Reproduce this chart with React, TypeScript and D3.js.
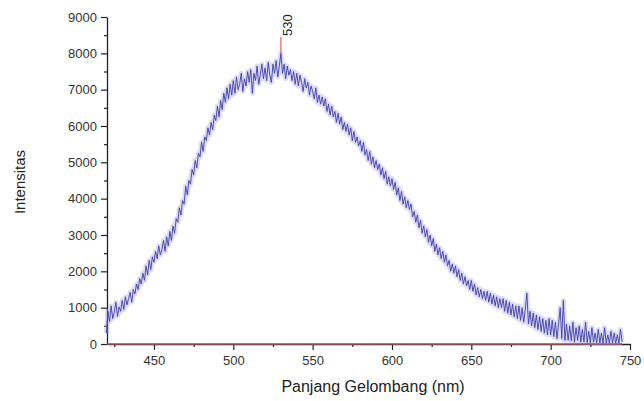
import * as d3 from "d3";
import { useEffect, useRef } from "react";

// spectrum, 1 nm step starting at 420 nm
const startNm = 420;
const intensity = [
  300, 900, 620, 1050, 700, 880, 1150, 760, 1020, 900,
  1200, 950, 1300, 1080, 1250, 1420, 1150, 1500, 1380, 1650,
  1500, 1800, 1650, 1950, 1750, 2150, 1900, 2300, 2050, 2400,
  2250, 2550, 2350, 2700, 2450, 2600, 2850, 2550, 2950, 2700,
  3100, 2850, 3250, 3050, 3450, 3350, 3750, 3550, 3950, 3850,
  4350, 4100, 4500, 4400, 4800, 4650, 5050, 4850, 5250, 5150,
  5550, 5300, 5700, 5600, 5950, 5750, 6100, 5900, 6300, 6150,
  6550, 6250, 6700, 6450, 6900, 6650, 7050, 6750, 7150, 6850,
  7250, 6900, 7350, 7000, 7150, 7450, 6950, 7300, 7100, 7500,
  7200, 7550, 6900, 7450, 7250, 7650, 7150, 7400, 7700, 7300,
  7600, 7250, 7750, 7400, 7200, 7700, 7450, 7800, 7350, 7650,
  8000, 7450, 7700, 7300, 7650, 7400, 7550, 7250, 7500, 7150,
  7450, 7100, 7400, 7200, 6950, 7300, 7050, 7200, 6850, 7100,
  6950, 6750, 7050, 6650, 6850, 6600, 6800, 6550, 6750, 6400,
  6600, 6300, 6550, 6250, 6400, 6100, 6350, 6050, 6250, 5900,
  6100, 5850, 6050, 5750, 5950, 5600, 5850, 5550, 5700, 5450,
  5600, 5300, 5550, 5200, 5350, 5050, 5300, 4950, 5150, 4850,
  5050, 4800, 4950, 4650, 4850, 4550, 4750, 4400, 4600, 4350,
  4550, 4250, 4450, 4100, 4300, 3950, 4200, 3850, 4050, 3750,
  3950, 3700, 3850, 3500, 3650, 3350, 3550, 3200, 3400, 3050,
  3250, 2950, 3150, 2800, 3000, 2700, 2900, 2550, 2750, 2450,
  2650, 2350, 2550, 2250, 2450, 2150, 2300, 2000, 2200, 1950,
  2150, 1850, 2050, 1750, 1950, 1650, 1850, 1600, 1750, 1500,
  1750, 1450, 1650, 1350, 1550, 1300, 1500, 1250, 1450, 1200,
  1450, 1150, 1400, 1100, 1350, 1050, 1300, 1000, 1250, 1000,
  1250, 900, 1200, 850, 1150, 800, 1100, 750, 1050, 700,
  1050, 650, 1000, 600, 950, 1400, 550, 900, 500, 850,
  450, 800, 400, 750, 350, 700, 300, 650, 250, 700,
  250, 650, 200, 600, 150, 550, 1000, 150, 1200, 100,
  550, 100, 500, 80, 600, 50, 450, 100, 500, 50,
  400, 50, 600, 40, 350, 30, 450, 50, 300, 30,
  400, 30, 300, 20, 450, 30, 250, 20, 350, 30,
  300, 20, 250, 30, 400, 60,
];
const wavelengths = intensity.map((_, i) => startNm + i);

const yTicks = [0, 1000, 2000, 3000, 4000, 5000, 6000, 7000, 8000, 9000];
const xTicks = [450, 500, 550, 600, 650, 700, 750];
const peakNm = 530;
const peakLabel = "530";

export default function App() {
  const ref = useRef<SVGSVGElement>(null);

  const width = 644;
  const height = 401;
  const marginLeft = 107;
  const marginTop = 17;
  const plotRight = 630;
  const plotBottom = 344;

  useEffect(() => {
    const svg = d3.select(ref.current);
    svg.selectAll("*").remove();

    const x = d3.scaleLinear().domain([420.4, 750]).range([marginLeft, plotRight]);
    const y = d3.scaleLinear().domain([0, 9000]).range([plotBottom, marginTop]);

    const font = "'Liberation Sans', Arial, sans-serif";

    // minor ticks
    svg
      .append("g")
      .attr("transform", `translate(${marginLeft},0)`)
      .call(d3.axisLeft(y).tickValues(d3.range(500, 9000, 1000)).tickSize(3).tickFormat(() => ""))
      .call((g) => g.select(".domain").remove());
    svg
      .append("g")
      .attr("transform", `translate(0,${plotBottom})`)
      .call(d3.axisBottom(x).tickValues(d3.range(425, 750, 50)).tickSize(3).tickFormat(() => ""))
      .call((g) => g.select(".domain").remove());

    // major axes
    const yAxis = svg
      .append("g")
      .attr("transform", `translate(${marginLeft},0)`)
      .call(d3.axisLeft(y).tickValues(yTicks).tickSize(6).tickSizeOuter(0).tickPadding(4).tickFormat(d3.format("d")));
    yAxis.selectAll("text").attr("fill", "#333").style("font-size", "13px").style("font-family", font);

    const xAxis = svg
      .append("g")
      .attr("transform", `translate(0,${plotBottom})`)
      .call(d3.axisBottom(x).tickValues(xTicks).tickSize(6).tickSizeOuter(0).tickPadding(6).tickFormat(d3.format("d")));
    xAxis.selectAll("text").attr("fill", "#333").style("font-size", "13px").style("font-family", font);

    svg.selectAll(".domain").attr("stroke", "#222").attr("stroke-width", 1.3);
    svg.selectAll(".tick line").attr("stroke", "#222").attr("stroke-width", 1.2);

    const pts = wavelengths.map((w, i) => [w, intensity[i]] as [number, number]);
    const line = d3
      .line<[number, number]>()
      .x((d) => x(d[0]))
      .y((d) => y(d[1]));

    // soft halo, then the dark trace
    svg
      .append("path")
      .datum(pts)
      .attr("d", line)
      .attr("fill", "none")
      .attr("stroke", "#a4a4e6")
      .attr("stroke-width", 5)
      .attr("stroke-opacity", 0.4)
      .attr("stroke-linejoin", "round");

    svg
      .append("path")
      .datum(pts)
      .attr("d", line)
      .attr("fill", "none")
      .attr("stroke", "#3e3eaa")
      .attr("stroke-width", 1)
      .attr("stroke-opacity", 0.9)
      .attr("stroke-linejoin", "round");

    // baseline in red over the x axis
    svg
      .append("line")
      .attr("x1", x(420.4))
      .attr("x2", x(745))
      .attr("y1", y(0))
      .attr("y2", y(0))
      .attr("stroke", "#a85866")
      .attr("stroke-width", 1.6);

    // peak marker
    const peakVal = intensity[wavelengths.indexOf(peakNm)];
    svg
      .append("line")
      .attr("x1", x(peakNm))
      .attr("x2", x(peakNm))
      .attr("y1", y(peakVal))
      .attr("y2", y(8450))
      .attr("stroke", "#e04050")
      .attr("stroke-width", 1);
    svg
      .append("text")
      .attr("transform", `translate(${x(peakNm) + 11},${y(8450) - 1}) rotate(-90)`)
      .attr("fill", "#222")
      .style("font-size", "13px")
      .style("font-family", font)
      .text(peakLabel);

    svg
      .append("text")
      .attr("transform", `translate(25,182) rotate(-90)`)
      .attr("text-anchor", "middle")
      .attr("fill", "#222")
      .style("font-size", "15px")
      .style("font-family", font)
      .text("Intensitas");

    svg
      .append("text")
      .attr("x", 373)
      .attr("y", 392)
      .attr("text-anchor", "middle")
      .attr("fill", "#222")
      .style("font-size", "16px")
      .style("font-family", font)
      .text("Panjang Gelombang (nm)");
  }, []);

  return (
    <svg
      ref={ref}
      width={width}
      height={height}
      style={{ position: "absolute", left: 0, top: 0, background: "#fff" }}
    ></svg>
  );
}
